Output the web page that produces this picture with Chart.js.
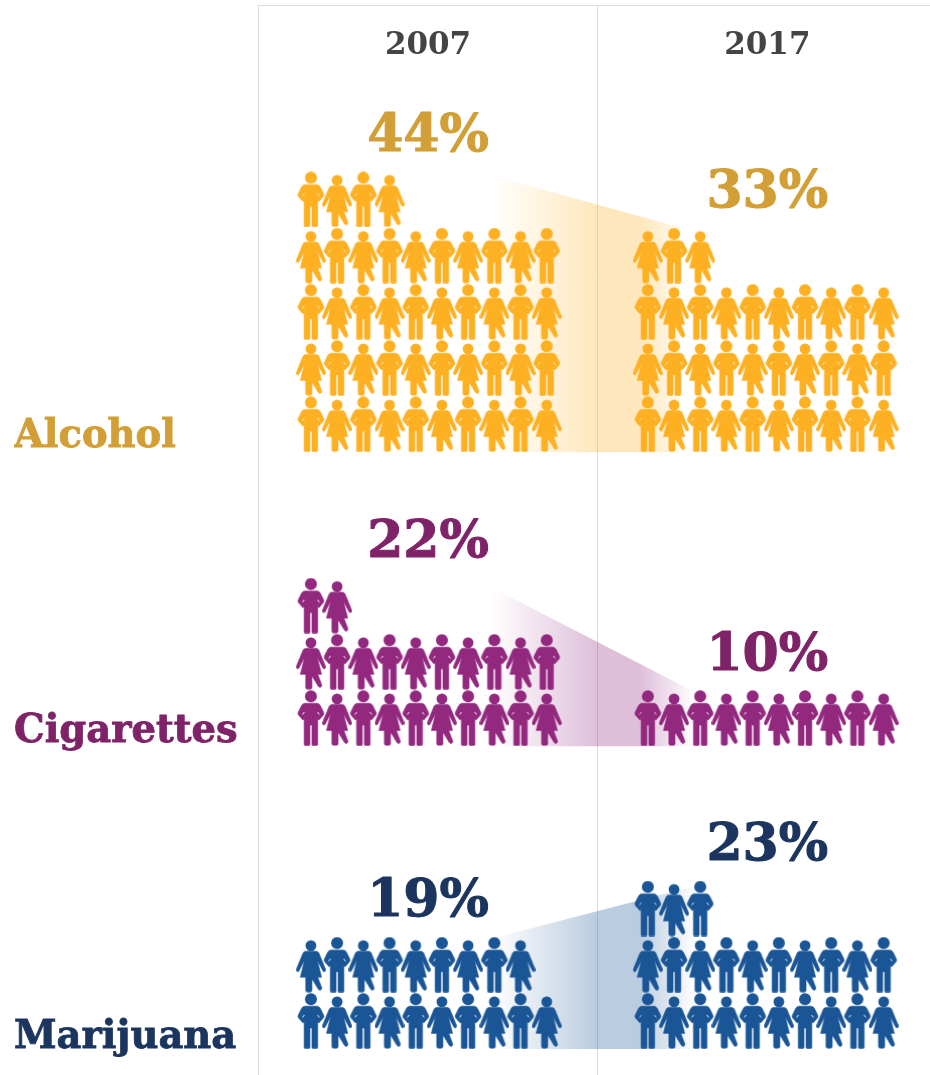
<!DOCTYPE html>
<html>
<head>
<meta charset="utf-8">
<style>
  html, body { margin: 0; padding: 0; background: #ffffff; }
  canvas { display: block; }
</style>
<script src="https://cdn.jsdelivr.net/npm/chart.js@4"></script>
</head>
<body>
<canvas id="chart" width="930" height="1075"></canvas>
<script>
// Share of teens reporting use, one person icon per percentage point.
const categories = ['Alcohol', 'Cigarettes', 'Marijuana'];
const years = ['2007', '2017'];
const share2007 = [44, 22, 19];
const share2017 = [33, 10, 23];

const iconColors = ['#FDB022', '#93287F', '#1A5596'];
const textColors = ['#D29F36', '#7F2368', '#1B355F'];
const wedgeRgb = ['253,176,34', '147,40,127', '26,85,150'];

// Axis units: one icon column across, one icon row up.
const PER_ROW = 10;
const PANEL_BASE = [10.62, 5.39, 0];
const LABEL_LIFT = [0.28, 0.25, 0.2];
const YEAR_OFFSET = [0, 12.86];
const YEAR_CENTER = [4.47, 17.42];
const DIVIDER = 10.95;
const WEDGE_FROM = [6.3, 6.15, 7.2];
const WEDGE_TO = [14.1, 14.5, 15.45];
const FADE_START = 6.9;

const rowsFor = v => Math.ceil(v / PER_ROW);

function drawMan(c) {
  c.beginPath();
  c.arc(15, 6.2, 6, 0, Math.PI * 2);
  c.fill();
  c.beginPath();
  c.moveTo(9, 13.2);
  c.lineTo(21, 13.2);
  c.quadraticCurveTo(23.4, 13.4, 24.4, 15.5);
  c.lineTo(27.8, 22.4);
  c.quadraticCurveTo(28.4, 24, 27.2, 25.2);
  c.lineTo(23, 30);
  c.lineTo(21.8, 29);
  c.lineTo(21.8, 54.2);
  c.quadraticCurveTo(21.8, 55.6, 20.4, 55.6);
  c.lineTo(17.2, 55.6);
  c.quadraticCurveTo(16, 55.6, 16, 54.2);
  c.lineTo(16, 35);
  c.lineTo(14, 35);
  c.lineTo(14, 54.2);
  c.quadraticCurveTo(14, 55.6, 12.8, 55.6);
  c.lineTo(9.6, 55.6);
  c.quadraticCurveTo(8.2, 55.6, 8.2, 54.2);
  c.lineTo(8.2, 29);
  c.lineTo(7, 30);
  c.lineTo(2.8, 25.2);
  c.quadraticCurveTo(1.6, 24, 2.2, 22.4);
  c.lineTo(5.6, 15.5);
  c.quadraticCurveTo(6.6, 13.4, 9, 13.2);
  c.closePath();
  c.fill();
  c.stroke();
  // Slits separating the arms from the torso
  c.globalCompositeOperation = 'destination-out';
  c.lineWidth = 0.9;
  c.beginPath();
  c.moveTo(21.6, 22);
  c.lineTo(23.4, 24.5);
  c.moveTo(8.4, 22);
  c.lineTo(6.6, 24.5);
  c.stroke();
  c.globalCompositeOperation = 'source-over';
}

function drawWoman(c) {
  c.beginPath();
  c.arc(15, 8.9, 5.4, 0, Math.PI * 2);
  c.fill();
  c.beginPath();
  c.moveTo(10, 14.4);
  c.lineTo(20, 14.4);
  c.quadraticCurveTo(22.2, 14.6, 23, 16.4);
  c.lineTo(29.6, 32.6);
  c.quadraticCurveTo(30, 34.2, 28.8, 34.8);
  c.quadraticCurveTo(27.6, 35.4, 27, 34.2);
  c.lineTo(21.4, 23.6);
  c.lineTo(25.6, 40.4);
  c.lineTo(21.8, 40.4);
  c.lineTo(25.8, 51);
  c.quadraticCurveTo(26.2, 52.6, 24.8, 53.2);
  c.quadraticCurveTo(23.4, 53.8, 22.4, 52.6);
  c.lineTo(16.6, 43);
  c.lineTo(16, 43);
  c.lineTo(16, 53.6);
  c.quadraticCurveTo(16, 55.2, 14.4, 55.2);
  c.lineTo(11.4, 55.2);
  c.quadraticCurveTo(9.8, 55.2, 9.8, 53.6);
  c.lineTo(9.8, 40.4);
  c.lineTo(4.4, 40.4);
  c.lineTo(8.6, 23.6);
  c.lineTo(3, 34.2);
  c.quadraticCurveTo(2.4, 35.4, 1.2, 34.8);
  c.quadraticCurveTo(0, 34.2, 0.4, 32.6);
  c.lineTo(7, 16.4);
  c.quadraticCurveTo(7.8, 14.6, 10, 14.4);
  c.closePath();
  c.fill();
  c.stroke();
}

function makeIcon(color, painter) {
  const cv = document.createElement('canvas');
  cv.width = 30;
  cv.height = 56;
  const c = cv.getContext('2d');
  c.fillStyle = color;
  c.strokeStyle = color;
  c.lineJoin = 'round';
  c.lineWidth = 0.6;
  painter(c);
  return cv;
}

const icons = iconColors.map(col => [makeIcon(col, drawMan), makeIcon(col, drawWoman)]);

// One point per percentage point, filling rows of ten from the bottom up.
function personPoints(value, panel, year) {
  const pts = [];
  for (let i = 0; i < value; i++) {
    pts.push({
      x: (i % PER_ROW) + YEAR_OFFSET[year],
      y: PANEL_BASE[panel] + Math.floor(i / PER_ROW) + 0.5
    });
  }
  return pts;
}

function personDataset(value, panel, year) {
  return {
    type: 'scatter',
    order: 0,
    data: personPoints(value, panel, year),
    showLine: false,
    pointStyle: ctx => {
      const i = ctx.dataIndex;
      return icons[panel][((i % PER_ROW) + Math.floor(i / PER_ROW)) % 2];
    }
  };
}

// Shaded band joining the top of the 2007 stack to the top of the 2017 stack.
function wedgeDataset(panel) {
  return {
    type: 'line',
    order: 1,
    data: [
      { x: WEDGE_FROM[panel], y: PANEL_BASE[panel] + rowsFor(share2007[panel]) },
      { x: WEDGE_TO[panel], y: PANEL_BASE[panel] + rowsFor(share2017[panel]) }
    ],
    pointRadius: 0,
    borderWidth: 0,
    borderColor: 'rgba(0,0,0,0)',
    tension: 0,
    fill: { value: PANEL_BASE[panel] },
    backgroundColor: ctx => {
      const x = ctx.chart.scales.x;
      const rgb = wedgeRgb[panel];
      const from = x ? x.getPixelForValue(FADE_START) : NaN;
      const to = x ? x.getPixelForValue(YEAR_OFFSET[1] + 1.8) : NaN;
      if (!isFinite(from) || !isFinite(to)) return `rgba(${rgb},0.3)`;
      const g = ctx.chart.ctx.createLinearGradient(from, 0, to, 0);
      const span = to - from;
      g.addColorStop(0, `rgba(${rgb},0)`);
      g.addColorStop((x.getPixelForValue(DIVIDER) - from) / span, `rgba(${rgb},0.3)`);
      g.addColorStop((x.getPixelForValue(YEAR_OFFSET[1] - 0.3) - from) / span, `rgba(${rgb},0.3)`);
      g.addColorStop(1, `rgba(${rgb},0)`);
      return g;
    }
  };
}

const datasets = [];
categories.forEach((_, p) => {
  datasets.push(wedgeDataset(p));
  datasets.push(personDataset(share2007[p], p, 0));
  datasets.push(personDataset(share2017[p], p, 1));
});

// Percentage figures sitting above each stack of icons.
const shareLabels = {
  id: 'shareLabels',
  afterDatasetsDraw(chart) {
    const { ctx, scales } = chart;
    ctx.save();
    ctx.font = 'bold 52px "DejaVu Serif"';
    ctx.textAlign = 'center';
    ctx.textBaseline = 'middle';
    ctx.lineWidth = 1;
    ctx.lineJoin = 'round';
    categories.forEach((_, p) => {
      [share2007[p], share2017[p]].forEach((v, y) => {
        ctx.fillStyle = textColors[p];
        ctx.strokeStyle = textColors[p];
        const px = scales.x.getPixelForValue(YEAR_CENTER[y]);
        const py = scales.y.getPixelForValue(PANEL_BASE[p] + rowsFor(v) + 0.6);
        ctx.fillText(v + '%', px, py);
        ctx.strokeText(v + '%', px, py);
      });
    });
    ctx.restore();
  }
};

new Chart(document.getElementById('chart'), {
  type: 'scatter',
  data: { datasets },
  plugins: [shareLabels],
  options: {
    responsive: false,
    animation: false,
    events: [],
    layout: { autoPadding: false, padding: { left: 14, right: 0, top: 0, bottom: 0 } },
    plugins: { legend: { display: false }, tooltip: { enabled: false } },
    scales: {
      x: {
        type: 'linear',
        position: 'top',
        min: -2.02,
        max: 23.63,
        afterBuildTicks: axis => {
          axis.ticks = [
            { value: YEAR_CENTER[0] },
            { value: DIVIDER },
            { value: YEAR_CENTER[1] }
          ];
        },
        afterFit: axis => {
          axis.height = 5;
          axis.paddingLeft = 0;
          axis.paddingRight = 0;
        },
        border: { display: true, color: '#dcdcdc', width: 1 },
        grid: {
          drawTicks: false,
          lineWidth: 1,
          color: ctx => (ctx.tick && ctx.tick.value === DIVIDER ? '#dcdcdc' : 'rgba(0,0,0,0)')
        },
        ticks: {
          autoSkip: false,
          maxRotation: 0,
          mirror: true,
          padding: 22,
          color: '#444444',
          font: { family: '"DejaVu Serif"', weight: 'bold', size: 31 },
          callback: value => {
            const i = YEAR_CENTER.indexOf(value);
            return i >= 0 ? years[i] : '';
          }
        }
      },
      y: {
        type: 'linear',
        position: 'left',
        min: -0.463,
        max: 18.58,
        afterBuildTicks: axis => {
          axis.ticks = PANEL_BASE.map((b, i) => ({ value: b + LABEL_LIFT[i] }));
        },
        afterFit: axis => {
          axis.width = 244;
          axis.paddingTop = 0;
          axis.paddingBottom = 0;
        },
        border: { display: true, color: '#dcdcdc', width: 1 },
        grid: { display: false, drawTicks: false },
        ticks: {
          autoSkip: false,
          crossAlign: 'far',
          color: ctx => textColors[ctx.index],
          textStrokeColor: ctx => textColors[ctx.index],
          textStrokeWidth: 0.8,
          font: { family: '"DejaVu Serif"', weight: 'bold', size: 38.5 },
          callback: (value, index) => categories[index]
        }
      }
    }
  }
});
</script>
</body>
</html>
